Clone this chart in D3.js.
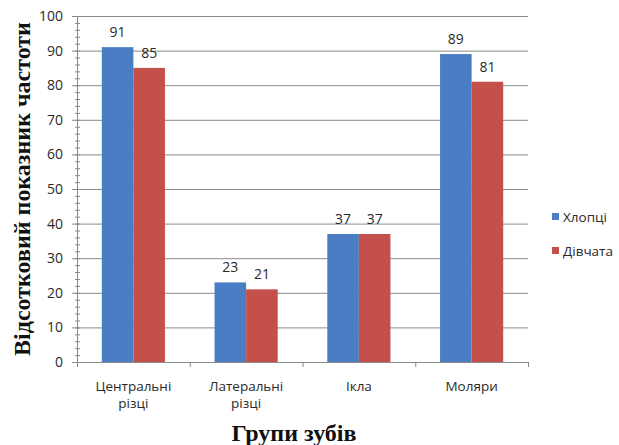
<!DOCTYPE html>
<html>
<head>
<meta charset="utf-8">
<script src="https://cdn.jsdelivr.net/npm/d3@7"></script>
<style>
  body { margin: 0; background: #fff; }
  svg { display: block; }
</style>
</head>
<body>
<svg id="chart" width="619" height="445"></svg>
<script>
// Tooth groups (two-line labels) and the percentage per series
const categories = [["Центральні", "різці"], ["Латеральні", "різці"], ["Ікла"], ["Моляри"]];
const seriesNames = ["Хлопці", "Дівчата"];
const boys = [91, 23, 37, 89];
const girls = [85, 21, 37, 81];
const yTicks = [0, 10, 20, 30, 40, 50, 60, 70, 80, 90, 100];
const colors = ["#4a7dc4", "#c4504b"];

const svg = d3.select("#chart");
const margin = { left: 77, right: 91, top: 16, bottom: 83 };
const W = 619, H = 445;
const plotW = W - margin.left - margin.right;
const plotH = H - margin.top - margin.bottom;
const g = svg.append("g").attr("transform", `translate(${margin.left},${margin.top})`);

const x0 = d3.scaleBand().domain(d3.range(categories.length)).range([0, plotW]).paddingInner(0.44).paddingOuter(0.22);
const x1 = d3.scaleBand().domain(d3.range(seriesNames.length)).range([0, x0.bandwidth()]);
const y = d3.scaleLinear().domain([0, 100]).range([plotH, 0]);

const font = "'Open Sans', 'Liberation Sans', sans-serif";
const textColor = "#2a2a2a";
const gridColor = "#8a8a8a";

// horizontal gridlines
g.append("g").selectAll("line").data(yTicks.filter(d => d > 0)).join("line")
  .attr("x1", 0).attr("x2", plotW)
  .attr("y1", d => y(d) + 0.5).attr("y2", d => y(d) + 0.5)
  .attr("stroke", gridColor).attr("stroke-width", 1);

// bars
const data = categories.map((c, i) => [boys[i], girls[i]]);
const groups = g.append("g").selectAll("g").data(data).join("g")
  .attr("transform", (d, i) => `translate(${x0(i)},0)`);
groups.selectAll("rect").data(d => d.map((v, s) => ({ v, s }))).join("rect")
  .attr("x", d => x1(d.s)).attr("width", x1.bandwidth())
  .attr("y", d => y(d.v)).attr("height", d => plotH - y(d.v))
  .attr("fill", d => colors[d.s]);
groups.selectAll("text").data(d => d.map((v, s) => ({ v, s }))).join("text")
  .attr("x", d => x1(d.s) + x1.bandwidth() / 2)
  .attr("y", d => y(d.v) - 10)
  .attr("text-anchor", "middle")
  .attr("font-family", font).attr("font-size", 14).attr("fill", textColor)
  .text(d => d.v);

// y axis with minor ticks every 2 units
const yAxis = g.append("g");
yAxis.append("line").attr("x1", 0.5).attr("x2", 0.5).attr("y1", 0).attr("y2", plotH)
  .attr("stroke", gridColor);
yAxis.selectAll(".minor").data(d3.range(0, 101, 2)).join("line")
  .attr("x1", -2).attr("x2", 3)
  .attr("y1", d => y(d) + 0.5).attr("y2", d => y(d) + 0.5)
  .attr("stroke", gridColor);
yAxis.selectAll(".major").data(yTicks).join("line")
  .attr("x1", -5).attr("x2", 0)
  .attr("y1", d => y(d) + 0.5).attr("y2", d => y(d) + 0.5)
  .attr("stroke", gridColor);
yAxis.selectAll("text").data(yTicks).join("text")
  .attr("x", -14).attr("y", d => y(d)).attr("dy", "0.35em")
  .attr("text-anchor", "end")
  .attr("font-family", font).attr("font-size", 14).attr("fill", textColor)
  .text(d => d);

// x axis
const xAxis = g.append("g").attr("transform", `translate(0,${plotH})`);
xAxis.append("line").attr("x1", 0).attr("x2", plotW).attr("y1", 0.5).attr("y2", 0.5)
  .attr("stroke", gridColor);
const bounds = d3.range(categories.length + 1).map(i => i * plotW / categories.length);
xAxis.selectAll(".tick").data(bounds).join("line")
  .attr("x1", d => d + 0.5).attr("x2", d => d + 0.5).attr("y1", 0).attr("y2", 5)
  .attr("stroke", gridColor);
const catLabels = xAxis.selectAll(".cat").data(categories).join("text")
  .attr("text-anchor", "middle")
  .attr("font-family", font).attr("font-size", 13.5).attr("fill", textColor)
  .attr("transform", (d, i) => `translate(${x0(i) + x0.bandwidth() / 2},29)`);
catLabels.selectAll("tspan").data(d => d).join("tspan")
  .attr("x", 0).attr("dy", (d, i) => i === 0 ? 0 : 17).text(d => d);

// axis titles
svg.append("text")
  .attr("transform", `translate(30,189) rotate(-90)`)
  .attr("text-anchor", "middle")
  .attr("font-family", "'Liberation Serif', 'Times New Roman', serif")
  .attr("font-weight", "bold").attr("font-size", 24).attr("fill", "#111")
  .text("Відсотковий показник частоти");
svg.append("text")
  .attr("x", 294).attr("y", 441)
  .attr("text-anchor", "middle")
  .attr("font-family", "'Liberation Serif', 'Times New Roman', serif")
  .attr("font-weight", "bold").attr("font-size", 24).attr("fill", "#111")
  .text("Групи зубів");

// legend
const legend = svg.append("g").attr("transform", "translate(552,217)");
const items = legend.selectAll("g").data(seriesNames).join("g")
  .attr("transform", (d, i) => `translate(0,${i * 34})`);
items.append("rect").attr("x", 0).attr("y", -4).attr("width", 7).attr("height", 7)
  .attr("fill", (d, i) => colors[i]);
items.append("text").attr("x", 11).attr("y", 0).attr("dy", "0.35em")
  .attr("font-family", font).attr("font-size", 13.5).attr("fill", textColor)
  .text(d => d);
</script>
</body>
</html>
